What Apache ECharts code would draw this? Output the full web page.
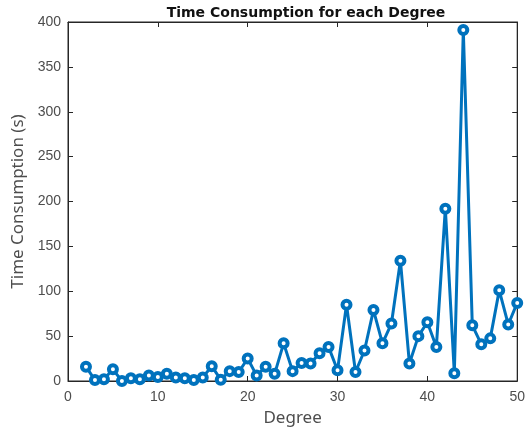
<!DOCTYPE html>
<html>
<head>
<meta charset="utf-8">
<script src="https://cdn.jsdelivr.net/npm/echarts@6/dist/echarts.min.js"></script>
<style>
  html, body { margin: 0; padding: 0; background: #fff; }
  #main { width: 528px; height: 436px; }
</style>
</head>
<body>
<div id="main"></div>
<script>
    // degree 2..50
    var degrees = [];
    for (var d = 2; d <= 50; d++) degrees.push(d);
    var times = [16, 1, 2, 13, 0, 3, 2, 6, 4.5, 8, 4, 3, 1, 4, 16.5, 1.5, 11, 10, 25, 6,
                 16, 8, 42, 11, 20, 19.5, 31, 38, 12, 85, 10, 34, 79, 42, 64, 134, 19.5,
                 50, 65.5, 38, 192, 8.6, 391, 62, 41, 47.5, 101, 63, 87];
    var xTicks = [0, 10, 20, 30, 40, 50];

    var axisCol = '#262626';
    var lblCol = '#4d4d4d';
    var pts = [];
    for (var i = 0; i < degrees.length; i++) pts.push([degrees[i], times[i]]);

    function boxAxis(pos, max, iv) {
        return {
            type: 'value', gridIndex: 0, position: pos, min: 0, max: max, interval: iv,
            axisLine: { show: true, onZero: false, lineStyle: { color: axisCol, width: 1 } },
            axisTick: { show: true, inside: true, length: 5, lineStyle: { color: axisCol } },
            axisLabel: { show: false }, splitLine: { show: false }
        };
    }

    var chart = echarts.init(document.getElementById('main'));
    chart.setOption({
        animation: false,
        title: {
            text: 'Time Consumption for each Degree',
            left: 301, top: 1, textAlign: 'center',
            textStyle: { fontFamily: 'DejaVu Sans', fontSize: 14, fontWeight: 'bold', color: '#111' }
        },
        grid: { left: 68, right: 5, top: 22, bottom: 55, show: true, borderColor: axisCol, borderWidth: 1, backgroundColor: 'transparent' },
        xAxis: [{
            type: 'value', gridIndex: 0, position: 'bottom', min: xTicks[0], max: xTicks[xTicks.length - 1], interval: 10,
            name: 'Degree', nameLocation: 'middle', nameGap: 29,
            nameTextStyle: { fontFamily: 'Noto Sans', fontSize: 17, color: lblCol },
            axisLine: { show: true, onZero: false, lineStyle: { color: axisCol, width: 1 } },
            axisTick: { show: true, inside: true, length: 5, lineStyle: { color: axisCol } },
            axisLabel: { fontFamily: 'Liberation Sans', fontSize: 14, color: lblCol, margin: 9 },
            splitLine: { show: false }
        }, boxAxis('top', 50, 10)],
        yAxis: [{
            type: 'value', gridIndex: 0, position: 'left', min: 0, max: 400, interval: 50,
            name: 'Time Consumption (s)', nameLocation: 'middle', nameGap: 41,
            nameTextStyle: { fontFamily: 'Noto Sans', fontSize: 17, color: lblCol },
            axisLine: { show: true, onZero: false, lineStyle: { color: axisCol, width: 1 } },
            axisTick: { show: true, inside: true, length: 5, lineStyle: { color: axisCol } },
            axisLabel: { fontFamily: 'Liberation Sans', fontSize: 14, color: lblCol, margin: 7 },
            splitLine: { show: false }
        }, boxAxis('right', 400, 50)],
        series: [{
            type: 'line',
            xAxisIndex: 0, yAxisIndex: 0,
            data: pts,
            symbol: 'circle',
            symbolSize: 8,
            showAllSymbol: true,
            clip: false,
            lineStyle: { color: '#0072BD', width: 3 },
            itemStyle: { color: '#ffffff', borderWidth: 4, borderColor: '#0072BD' }
        }]
    });
</script>
</body>
</html>
